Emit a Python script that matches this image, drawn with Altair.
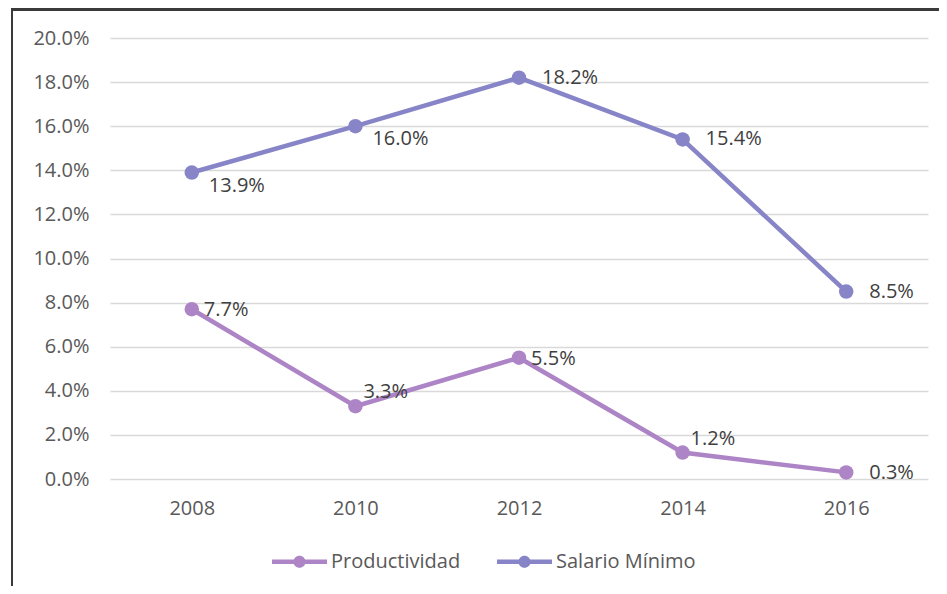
import altair as alt
import pandas as pd

years = ["2008", "2010", "2012", "2014", "2016"]
productividad = [7.7, 3.3, 5.5, 1.2, 0.3]
salario = [13.9, 16.0, 18.2, 15.4, 8.5]
series_names = ["Productividad", "Salario Mínimo"]
colors = ["#AD84C6", "#8784C7"]

rows = []
for y, v in zip(years, productividad):
    rows.append({"year": y, "serie": series_names[0], "value": v / 100})
for y, v in zip(years, salario):
    rows.append({"year": y, "serie": series_names[1], "value": v / 100})
df = pd.DataFrame(rows)

FONT = "Open Sans"
FS = 20

x_enc = alt.X("year:N", sort=years, title=None,
              scale=alt.Scale(paddingInner=0, paddingOuter=0.5),
              axis=alt.Axis(labelAngle=0, ticks=False, domain=False, grid=False,
                            labelFontSize=FS, labelColor="#595959", labelPadding=19,
                            labelFont=FONT))
y_enc = alt.Y("value:Q", title=None,
              scale=alt.Scale(domain=[0, 0.2], nice=False),
              axis=alt.Axis(values=[i / 50 for i in range(11)], format=".1%",
                            ticks=False, domain=False, gridColor="#D9D9D9", gridWidth=1.5,
                            labelFontSize=FS, labelColor="#595959", labelPadding=21,
                            labelFont=FONT))
color_enc = alt.Color("serie:N", title=None,
                      scale=alt.Scale(domain=series_names, range=colors),
                      legend=alt.Legend(
                          orient="none", legendX=162, legendY=496, direction="horizontal",
                          symbolType="M-1,-0.085L1,-0.085L1,0.085L-1,0.085Z"
                                     "M-0.22,0A0.22,0.22 0 1,1 0.22,0A0.22,0.22 0 1,1 -0.22,0Z",
                          symbolSize=3025, symbolStrokeWidth=0, symbolOpacity=1,
                          labelFontSize=FS, labelColor="#595959", labelFont=FONT,
                          labelOffset=4, columnPadding=36))

base = alt.Chart(df)

border = base.mark_rect(fill=None, stroke="#3A3A3A", strokeWidth=2).encode(
    x=alt.value(-98), x2=alt.value(1200), y=alt.value(-28.5), y2=alt.value(800))

lines = base.mark_line(strokeWidth=4.5).encode(x=x_enc, y=y_enc, color=color_enc)
points = base.mark_point(filled=True, size=210, opacity=1).encode(
    x=x_enc, y=y_enc,
    color=alt.Color("serie:N", scale=alt.Scale(domain=series_names, range=colors), legend=None))

def labels(filt, dx, dy):
    return base.transform_filter(filt).mark_text(
        align="left", baseline="middle", dx=dx, dy=dy, fontSize=FS, font=FONT, color="#404040"
    ).encode(x=alt.X("year:N", sort=years), y="value:Q", text=alt.Text("value:Q", format=".1%"))

is_sal = "datum.serie == 'Salario Mínimo'"
lab_a = labels(f"{is_sal} && (datum.year == '2008' || datum.year == '2010')", 17, 13)
lab_b = labels(f"{is_sal} && !(datum.year == '2008' || datum.year == '2010')", 23, 0)
lab_c = labels(f"!({is_sal}) && (datum.year == '2008' || datum.year == '2012')", 12, 1)
lab_d = labels(f"!({is_sal}) && (datum.year == '2010' || datum.year == '2014')", 8, -14)
lab_e = labels(f"!({is_sal}) && datum.year == '2016'", 23, 1)

chart = alt.layer(border, lines, points, lab_a, lab_b, lab_c, lab_d, lab_e).properties(
    width=818, height=441,
    autosize=alt.AutoSizeParams(type="none"),
    padding={"left": 102, "top": 30, "right": 11, "bottom": 107},
).configure(font=FONT).configure_view(strokeWidth=0, stroke="transparent")

chart.save("out.html", embed_options={"renderer": "svg", "actions": False})
